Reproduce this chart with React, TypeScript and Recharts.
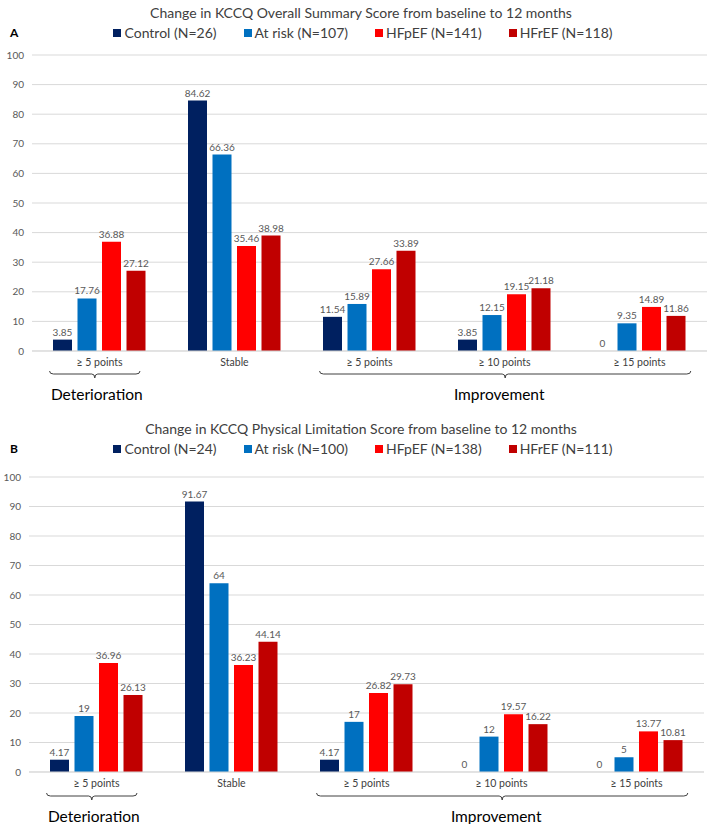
import React from 'react';
import { BarChart, Bar, XAxis, YAxis, CartesianGrid, LabelList } from 'recharts';

const CATEGORY_LABELS = ['≥ 5 points', 'Stable', '≥ 5 points', '≥ 10 points', '≥ 15 points'];
const CATEGORY_KEYS = ['det5', 'stable', 'imp5', 'imp10', 'imp15'];
const Y_TICKS = [0, 10, 20, 30, 40, 50, 60, 70, 80, 90, 100];

const SERIES_NAMES = ['Control', 'At risk', 'HFpEF', 'HFrEF'];
const SERIES_COLORS = ['#002060', '#0070C0', '#FF0000', '#C00000'];

const A_TITLE = 'Change in KCCQ Overall Summary Score from baseline to 12 months';
const A_N = [26, 107, 141, 118];
const A_control = [3.85, 84.62, 11.54, 3.85, 0];
const A_atRisk = [17.76, 66.36, 15.89, 12.15, 9.35];
const A_hfpef = [36.88, 35.46, 27.66, 19.15, 14.89];
const A_hfref = [27.12, 38.98, 33.89, 21.18, 11.86];

const B_TITLE = 'Change in KCCQ Physical Limitation Score from baseline to 12 months';
const B_N = [24, 100, 138, 111];
const B_control = [4.17, 91.67, 4.17, 0, 0];
const B_atRisk = [19, 64, 17, 12, 5];
const B_hfpef = [36.96, 36.23, 26.82, 19.57, 13.77];
const B_hfref = [26.13, 44.14, 29.73, 16.22, 10.81];

const FONT = 'Lato, "Open Sans", "Liberation Sans", sans-serif';
const X_AXIS_H = 30;

function buildRows(c: number[], a: number[], p: number[], r: number[]) {
  return CATEGORY_KEYS.map((k, i) => ({ key: k, s0: c[i], s1: a[i], s2: p[i], s3: r[i] }));
}

type PanelProps = {
  letter: string;
  title: string;
  ns: number[];
  rows: any[];
  top: number;
  height: number;
  titleY: number;
  legendY: number;
  plotTop: number;
  plotBottom: number;
  plotLeft: number;
  plotRight: number;
  braceY: number;
  groupLabelY: number;
};

function brace(x1: number, x2: number, y: number) {
  const xc = (x1 + x2) / 2;
  return `M${x1},${y - 3} Q${x1},${y} ${x1 + 4},${y} H${xc - 3} Q${xc},${y} ${xc},${y + 4} Q${xc},${y} ${xc + 3},${y} H${x2 - 4} Q${x2},${y} ${x2},${y - 3}`;
}

function Panel(p: PanelProps) {
  const W = 709;
  const plotW = p.plotRight - p.plotLeft;
  const band = plotW / CATEGORY_KEYS.length;
  const detX1 = p.plotLeft + band * 0.13;
  const detX2 = p.plotLeft + band * 0.8;
  const impX1 = p.plotLeft + band * 2.13;
  const impX2 = p.plotLeft + band * 4.88;
  return (
    <div style={{ position: 'absolute', left: 0, top: p.top, width: W, height: p.height }}>
      <div style={{ position: 'absolute', left: 0, top: p.titleY - 10, width: 722, textAlign: 'center', fontFamily: FONT, fontSize: 14, color: '#404040', whiteSpace: 'nowrap', lineHeight: '20px' }}>
        {p.title}
      </div>
      <div style={{ position: 'absolute', left: 10, top: p.legendY - 8, fontFamily: FONT, fontSize: 12, fontWeight: 700, color: '#000', lineHeight: '16px' }}>
        {p.letter}
      </div>
      <div style={{ position: 'absolute', left: 0, top: p.legendY - 10, width: 726, display: 'flex', justifyContent: 'center', gap: 27, fontFamily: FONT, fontSize: 14, color: '#404040', lineHeight: '20px', whiteSpace: 'nowrap' }}>
        {SERIES_NAMES.map((n, i) => (
          <div key={n} style={{ display: 'flex', alignItems: 'center' }}>
            <span style={{ display: 'inline-block', width: 8, height: 8, background: SERIES_COLORS[i], marginRight: 3 }} />
            <span>{`${n} (N=${p.ns[i]})`}</span>
          </div>
        ))}
      </div>
      <div style={{ position: 'absolute', left: 0, top: 0 }}>
        <BarChart
          width={W}
          height={p.height}
          data={p.rows}
          margin={{ top: p.plotTop, bottom: p.height - p.plotBottom - X_AXIS_H, left: 0, right: W - p.plotRight }}
          barSize={19}
          barGap={5.5}
        >
          <CartesianGrid vertical={false} stroke="#d9d9d9" strokeWidth={1} />
          <XAxis
            dataKey="key"
            height={X_AXIS_H}
            tickLine={false}
            axisLine={{ stroke: '#d9d9d9' }}
            tickFormatter={(v: string) => CATEGORY_LABELS[CATEGORY_KEYS.indexOf(v)]}
            tick={{ fontSize: 10.5, fill: '#404040', fontFamily: FONT }}
            interval={0}
          />
          <YAxis
            width={p.plotLeft}
            domain={[0, 100]}
            ticks={Y_TICKS}
            tickLine={false}
            axisLine={false}
            tick={{ fontSize: 10, fill: '#595959', fontFamily: FONT }}
            interval={0}
          />
          {SERIES_NAMES.map((n, i) => (
            <Bar key={n} dataKey={`s${i}`} name={n} fill={SERIES_COLORS[i]} minPointSize={0.01} isAnimationActive={false}>
              <LabelList dataKey={`s${i}`} position="top" offset={4} style={{ fontSize: 10, fill: '#595959', fontFamily: FONT }} />
            </Bar>
          ))}
        </BarChart>
      </div>
      <svg style={{ position: 'absolute', left: 0, top: 0 }} width={W} height={p.height}>
        <path d={brace(detX1, detX2, p.braceY)} fill="none" stroke="#404040" strokeWidth={1} />
        <path d={brace(impX1, impX2, p.braceY)} fill="none" stroke="#404040" strokeWidth={1} />
        <text x={(detX1 + detX2) / 2 + 2} y={p.groupLabelY} textAnchor="middle" dominantBaseline="central" fontFamily={FONT} fontSize={15.5} fill="#000">Deterioration</text>
        <text x={(impX1 + impX2) / 2 - 6} y={p.groupLabelY} textAnchor="middle" dominantBaseline="central" fontFamily={FONT} fontSize={15.5} fill="#000">Improvement</text>
      </svg>
    </div>
  );
}

export default function App() {
  const rowsA = buildRows(A_control, A_atRisk, A_hfpef, A_hfref);
  const rowsB = buildRows(B_control, B_atRisk, B_hfpef, B_hfref);
  return (
    <div style={{ position: 'absolute', left: 0, top: 0, width: 709, height: 824, background: '#fff', overflow: 'hidden' }}>
      <Panel
        letter="A" title={A_TITLE} ns={A_N} rows={rowsA}
        top={0} height={410} titleY={13} legendY={33}
        plotTop={55} plotBottom={351} plotLeft={32} plotRight={707}
        braceY={374} groupLabelY={394}
      />
      <Panel
        letter="B" title={B_TITLE} ns={B_N} rows={rowsB}
        top={410} height={414} titleY={19} legendY={39}
        plotTop={67} plotBottom={362} plotLeft={29} plotRight={704}
        braceY={386} groupLabelY={406}
      />
    </div>
  );
}
